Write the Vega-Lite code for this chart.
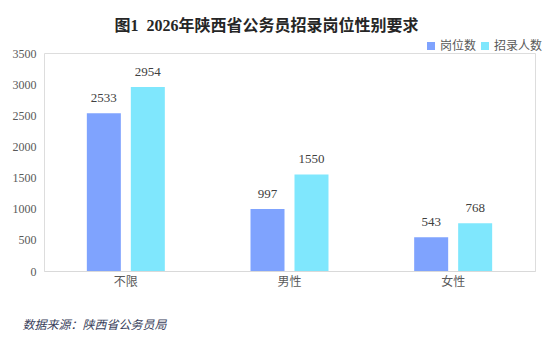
{
  "$schema": "https://vega.github.io/schema/vega-lite/v6.json",
  "width": 491,
  "height": 218,
  "autosize": {"type": "none"},
  "padding": {"left": 44, "top": 53, "right": 20, "bottom": 83},
  "background": "#ffffff",
  "title": {
    "text": "图1\u00a0\u00a02026年陕西省公务员招录岗位性别要求",
    "font": "Liberation Serif, Noto Sans CJK SC",
    "fontSize": 16,
    "fontWeight": "bold",
    "color": "#262626",
    "anchor": "middle",
    "frame": "group",
    "dx": -23,
    "offset": 6
  },
  "data": {
    "values": [
      {"cat": "不限", "series": "岗位数", "value": 2533},
      {"cat": "不限", "series": "招录人数", "value": 2954},
      {"cat": "男性", "series": "岗位数", "value": 997},
      {"cat": "男性", "series": "招录人数", "value": 1550},
      {"cat": "女性", "series": "岗位数", "value": 543},
      {"cat": "女性", "series": "招录人数", "value": 768}
    ]
  },
  "encoding": {
    "x": {
      "field": "cat",
      "type": "nominal",
      "sort": ["不限", "男性", "女性"],
      "scale": {"paddingInner": 0, "paddingOuter": 0},
      "axis": {
        "labelAngle": 0,
        "labelFont": "Noto Sans CJK SC",
        "labelFontSize": 12,
        "labelColor": "#595959",
        "labelPadding": 5,
        "ticks": false,
        "domainColor": "#d9d9d9",
        "title": "数据来源：陕西省公务员局",
        "titleFont": "Noto Sans CJK SC",
        "titleFontSize": 12,
        "titleFontWeight": "normal",
        "titleFontStyle": "italic",
        "titleColor": "#3a3f5c",
        "titleAnchor": "start",
        "titleX": -22,
        "titlePadding": 32
      }
    },
    "xOffset": {
      "field": "series",
      "type": "nominal",
      "sort": ["岗位数", "招录人数"],
      "scale": {"paddingInner": 0.227, "paddingOuter": 0.974}
    },
    "y": {
      "field": "value",
      "type": "quantitative",
      "scale": {"domain": [0, 3500]},
      "axis": {
        "values": [0, 500, 1000, 1500, 2000, 2500, 3000, 3500],
        "format": "d",
        "grid": false,
        "domain": false,
        "ticks": false,
        "labelFont": "Liberation Serif",
        "labelFontSize": 12,
        "labelColor": "#595959",
        "labelPadding": 8,
        "title": null
      }
    }
  },
  "layer": [
    {
      "mark": {"type": "bar"},
      "encoding": {
        "color": {
          "field": "series",
          "type": "nominal",
          "sort": ["岗位数", "招录人数"],
          "scale": {"range": ["#7fa3fe", "#7fe7fd"]},
          "legend": {
            "title": null,
            "orient": "none",
            "direction": "horizontal",
            "legendX": 381,
            "legendY": -13,
            "symbolType": "square",
            "symbolSize": 64,
            "symbolStrokeWidth": 0,
            "labelFont": "Noto Sans CJK SC",
            "labelFontSize": 12,
            "labelColor": "#595959",
            "labelOffset": 3,
            "columnPadding": 2
          }
        }
      }
    },
    {
      "mark": {"type": "text", "dy": -8, "baseline": "bottom", "font": "Liberation Serif", "fontSize": 13, "color": "#404040"},
      "encoding": {
        "text": {"field": "value", "type": "quantitative", "format": "d"}
      }
    }
  ]
}
